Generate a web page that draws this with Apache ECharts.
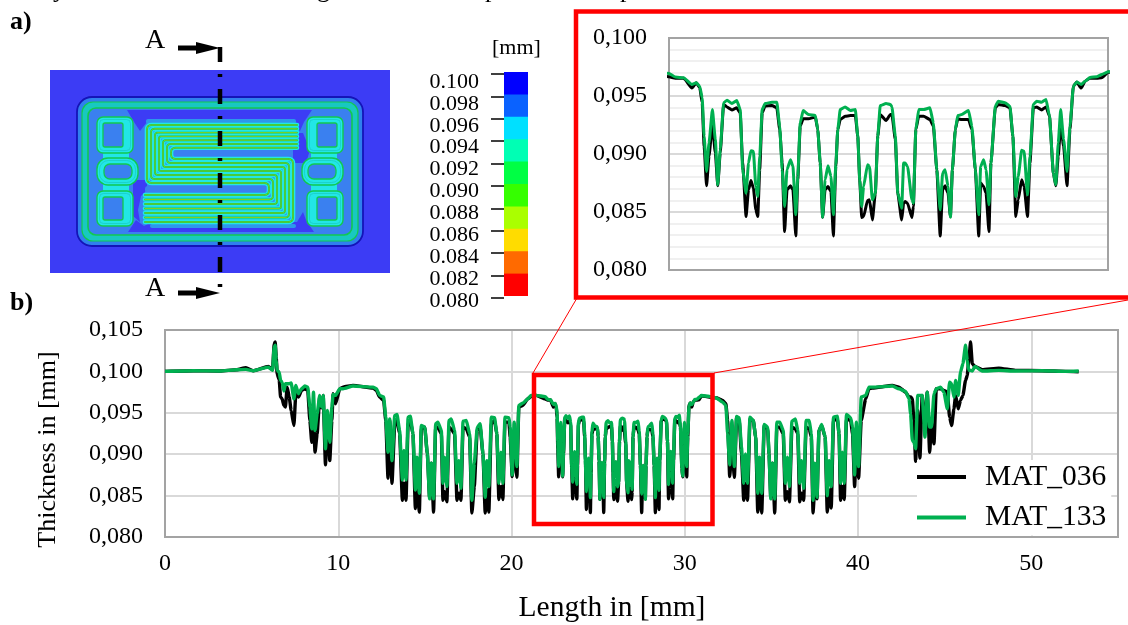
<!DOCTYPE html>
<html>
<head>
<meta charset="utf-8">
<style>html,body{margin:0;padding:0;background:#fff}#c{width:1128px;height:625px}</style>
<script src="https://cdn.jsdelivr.net/npm/echarts@6/dist/echarts.min.js"></script>
</head>
<body>
<div id="c"></div>
<script>
// Length along section A-A in mm and sheet thickness in mm, region by region.
const lengthFlangeLeft = [0,1.63,3.17,4.13,4.67,5.09,5.96,6.21,6.30,6.36,
6.42,6.47,6.59,6.67,6.76,6.86,6.95,7.05,7.17,7.28,
7.44,7.55,7.70,7.88,8.07,8.24,8.36,8.47,8.57,8.66,
8.78,8.93,9.03,9.13,9.26,9.38,9.51,9.63,9.70,9.84,
10.09,10.28,10.85,12.01,12.20,12.39,12.62,12.74,12.87,12.97,
13.10,13.26,13.39,13.54,13.70,13.79,13.91,14.03,14.16,14.31,
14.45,14.54,14.68,14.79,14.99,15.14,15.27,15.37,15.50,15.62,
15.75,15.95,16.04,16.14,16.27,16.39,16.52,16.71,16.85,16.96,
17.08,17.20,17.39,17.58,17.71,17.85,18.02,18.19,18.35,18.48,
18.58,18.69,18.83,19.02,19.15,19.27,19.39,19.50,19.62,19.85,
19.92,20.04,20.15,20.31,20.42,20.65,20.94,21.13,21.42];
const mat036Left = [.1,.10008,.10004,.1002,.10044,.10008,.1006,.1002,.10335,.10355,
.10173,.09972,.099,.0969,.09669,.09589,.09569,.0981,.0969,.09528,
.09347,.0973,.0969,.0977,.0979,.0977,.09407,.09145,.09407,.09024,
.09246,.0969,.0956,.0971,.08871,.09407,.08923,.09407,.0973,.09609,
.0979,.0981,.09831,.09798,.0977,.0969,.09649,.09407,.0871,.09407,
.08649,.09367,.09407,.09246,.08444,.08649,.08444,.09367,.09407,.09246,
.08343,.08609,.083,.09306,.09327,.09004,.0848,.08891,.083,.09327,
.09327,.09246,.08444,.08548,.08424,.09327,.09306,.09246,.08444,.08528,
.08444,.09327,.09306,.09206,.0829,.08609,.09286,.09327,.09004,.0829,
.08568,.083,.09367,.09407,.09246,.08452,.08609,.08452,.09387,.09387,
.09206,.0873,.09085,.08722,.09569,.09589,.09669,.09698,.0971];
const mat133Left = [.1,.10008,.10004,.1002,.10024,.10008,.10052,.10012,.10294,.10315,
.10133,.10012,.09992,.09891,.09871,.09762,.09851,.09851,.09851,.09859,
.09669,.09831,.0973,.0979,.09823,.0981,.09569,.09306,.0975,.09286,
.09488,.0971,.09569,.0971,.09065,.09528,.09145,.09569,.09722,.0971,
.0979,.0979,.09823,.0981,.0979,.0971,.0969,.09448,.09024,.09427,
.08923,.09468,.0948,.09286,.08689,.09044,.08689,.09448,.0946,.09246,
.08568,.08963,.08528,.09347,.09327,.09004,.0846,.08891,.0846,.09367,
.09387,.09286,.08649,.08963,.08609,.09407,.09427,.09286,.08649,.08923,
.08589,.09399,.09407,.09246,.08444,.08891,.09327,.09367,.09004,.0848,
.08923,.08609,.09448,.0944,.09246,.08649,.09024,.08649,.09448,.0944,
.09327,.0875,.09387,.08851,.09589,.09617,.09669,.0971,.0971];

const lengthCentre = [21.95,22.08,22.25,22.42,22.51,22.58,22.63,22.67,22.72,22.77,
22.84,22.90,22.95,23.00,23.07,23.14,23.24,23.34,23.41,23.46,
23.53,23.58,23.63,23.68,23.73,23.77,23.81,23.86,23.92,24.06,
24.16,24.22,24.27,24.32,24.37,24.44,24.49,24.55,24.59,24.64,
24.70,24.81,24.95,25.00,25.05,25.10,25.15,25.21,25.27,25.32,
25.37,25.41,25.46,25.56,25.67,25.77,25.82,25.86,25.90,25.94,
26.02,26.06,26.12,26.18,26.23,26.28,26.40,26.49,26.52,26.59,
26.64,26.72,26.76,26.79,26.84,26.93,26.96,27.01,27.07,27.17,
27.30,27.37,27.44,27.51,27.56,27.61,27.67,27.72,27.76,27.82,
27.87,27.95,28.09,28.16,28.23,28.30,28.34,28.40,28.45,28.51,
28.55,28.64,28.70,28.84,28.94,29.00,29.06,29.11,29.18,29.23,
29.30,29.35,29.42,29.49,29.59,29.68,29.75,29.83,29.88,29.93,
29.98,30.04,30.11,30.17,30.24,30.31,30.40,30.48,30.58,30.72,
30.82,30.96];
const mat036Centre = [.09666,.09654,.09654,.09568,.09614,.09571,.09441,.09066,.08726,.0898,
.09254,.09009,.08726,.09009,.09427,.09406,.0938,.09398,.09354,.08922,
.08461,.08692,.08772,.08706,.08519,.08461,.08865,.09354,.09412,.09418,
.09398,.0921,.08922,.08331,.08692,.08726,.08692,.08294,.08778,.09239,
.09303,.09303,.0932,.0921,.08922,.08455,.08692,.0872,.08677,.08294,
.08893,.0921,.09297,.09326,.09331,.09331,.09153,.08778,.08452,.08461,
.08599,.08605,.08432,.08663,.09153,.0934,.09288,.0934,.0934,.09124,
.08663,.08432,.08576,.08591,.08576,.08452,.08548,.0921,.09326,.09326,
.09297,.09239,.08865,.08294,.08692,.08726,.08663,.08461,.08865,.0921,
.09303,.09297,.09297,.0921,.08865,.08294,.08749,.0872,.08663,.08331,
.08922,.09398,.09427,.09418,.09398,.09153,.08461,.08605,.08778,.0872,
.08461,.08922,.09398,.09406,.0938,.09406,.09326,.08836,.08726,.0898,
.09254,.09066,.08726,.0921,.09585,.0962,.09568,.09628,.09654,.09654,
.09657,.09706];
const mat133Centre = [.09695,.09663,.09657,.09599,.09614,.09585,.09484,.09153,.0885,.09095,
.09383,.09124,.08735,.09037,.09441,.09464,.09435,.09461,.09383,.08865,
.08663,.08922,.09029,.09023,.0872,.08634,.0898,.09383,.09435,.09447,
.09447,.09239,.08865,.08548,.08865,.08951,.08893,.08476,.08807,.09268,
.09375,.0934,.09331,.0921,.08922,.08455,.08778,.08899,.08807,.08476,
.08908,.0921,.09383,.09406,.09375,.09383,.09153,.08778,.08548,.0872,
.08908,.08893,.08605,.08663,.09153,.09418,.09435,.09427,.09406,.09153,
.08663,.08533,.08922,.08922,.08893,.08605,.08576,.0921,.09383,.09383,
.09398,.09268,.08865,.08519,.08836,.08865,.0872,.08455,.08865,.0921,
.09331,.0934,.09375,.09239,.08865,.08476,.08893,.08951,.08865,.08562,
.08922,.09412,.09455,.09441,.09412,.09153,.08634,.08807,.09032,.09023,
.08648,.0898,.09427,.09455,.09447,.0947,.09326,.08836,.08735,.09095,
.09383,.09124,.0885,.09239,.09585,.0962,.09599,.09628,.0966,.09666,
.09686,.09709];

const lengthFlangeRight = [31.41,31.80,32.18,32.37,32.47,32.59,32.72,32.86,32.99,33.14,
33.27,33.40,33.50,33.62,33.76,33.95,34.09,34.21,34.31,34.44,
34.58,34.78,34.86,34.96,35.06,35.19,35.31,35.48,35.68,35.80,
35.92,36.04,36.18,36.38,36.52,36.63,36.74,36.86,37.00,37.18,
37.30,37.40,37.50,37.63,37.74,37.90,38.10,38.22,38.33,38.45,
38.58,38.80,38.90,38.99,39.09,39.20,39.33,39.57,39.68,39.80,
39.90,40.03,40.18,40.44,40.63,40.82,41.98,42.36,42.74,42.94,
43.03,43.13,43.22,43.32,43.44,43.57,43.70,43.86,43.99,44.13,
44.24,44.38,44.51,44.76,44.95,45.15,45.28,45.40,45.53,45.63,
45.78,45.91,46.05,46.20,46.30,46.39,46.49,46.59,46.74,47.16,
48.12,49.08,50.62,51.97,52.73];
const mat036Right = [.0969,.09681,.09649,.09609,.09407,.0873,.09085,.08722,.09448,.09407,
.09004,.08444,.08649,.08444,.09427,.09407,.09206,.083,.08609,.0829,
.09347,.09306,.09,.0848,.08891,.0829,.09327,.09327,.09246,.08444,
.08548,.08424,.09327,.09306,.09246,.08424,.08528,.08444,.09327,.09306,
.09206,.0829,.08609,.0846,.09286,.09347,.09206,.083,.08568,.0835,
.09407,.09427,.09246,.08444,.08609,.08452,.09427,.09407,.09246,.08609,
.09085,.0871,.09407,.09669,.0979,.09798,.09831,.0981,.0975,.0969,
.0969,.09669,.09407,.08915,.09528,.08955,.0971,.09327,.0975,.09024,
.09367,.09125,.0979,.0979,.0977,.0975,.09448,.09347,.09548,.0971,
.09548,.09649,.0971,.09891,.09952,.10133,.10355,.10093,.1006,.1002,
.1004,.10012,.10008,.1,.09996];
const mat133Right = [.09698,.09681,.09629,.09589,.09246,.08871,.09407,.08851,.09456,.0944,
.09085,.08649,.09004,.08649,.09448,.09407,.09206,.08528,.08963,.08528,
.09359,.09327,.09,.0846,.08891,.0846,.09387,.09387,.09286,.08649,
.08963,.08609,.09399,.09427,.09286,.08649,.08923,.08589,.09407,.09407,
.09246,.08444,.08891,.0848,.09286,.09359,.09206,.085,.08923,.08609,
.09448,.0946,.09246,.08649,.09024,.08649,.0948,.0944,.09327,.0875,
.09387,.08851,.0969,.0971,.0981,.0981,.09823,.0979,.09758,.09669,
.09488,.09165,.09145,.09065,.0971,.0971,.0971,.09206,.0975,.09327,
.09327,.0973,.0979,.0981,.0975,.09548,.09871,.09851,.0969,.09891,
.0971,.09992,.10093,.10315,.10133,.10012,.10012,.10004,.1006,.10004,
.10012,.10004,.10008,.1,.10004];

const tickLabelsColorbar = ['0.100','0.098','0.096','0.094','0.092','0.090','0.088','0.086','0.084','0.082','0.080'];
const colorbandUpperBounds = [0.100,0.098,0.096,0.094,0.092,0.090,0.088,0.086,0.084,0.082];
const colorbandColours = ['#0000ff','#0a62ff','#00e0ff','#00ffb4','#00ff44','#35ff00','#aaff00','#ffdc00','#ff6a00','#ff0000'];
const seriesNames = ['MAT_036','MAT_133'];
const seriesColours = ['#000000','#00b050'];

const lengths = lengthFlangeLeft.concat(lengthCentre, lengthFlangeRight);
const thick036 = mat036Left.concat(mat036Centre, mat036Right);
const thick133 = mat133Left.concat(mat133Centre, mat133Right);
const points036 = lengths.map((x,i)=>[x,thick036[i]]);
const points133 = lengths.map((x,i)=>[x,thick133[i]]);

const SERIF = '"Liberation Serif","Times New Roman",serif';
const commaFmt = v => v.toFixed(3).replace('.',',');

// ---- FE contour sketch ----
const BLUE='#3c3cf5', MID='#3a80f0', CY='#22e6e6', GR='#12c850', LIME='#b0d410', TEAL='#18c8c0', HALO='#2c98ec';
const g=[];
const rr=(x,y,w,h,r,fill,stroke,lw)=>g.push({type:'rect',silent:true,shape:{x,y,width:w,height:h,r},style:{fill:fill||'none',stroke:stroke||'none',lineWidth:lw||0}});
const poly=(pts,fill)=>g.push({type:'polygon',silent:true,shape:{points:pts},style:{fill}});
rr(50,70,340,203,0,BLUE);
rr(77,97,286,149,15,'#2f80ee','#1414b8',1.8);
rr(82,102,276,139,11,TEAL,GR,1.2);
rr(88,108,264,127,8,MID,GR,1.6);
// dark regions around the serpentine
poly([[127,110],[312,110],[304,122],[300,131],[293,124],[147,122],[140,131],[134,122]],BLUE);
poly([[128,232],[314,232],[306,220],[303,212],[297,222],[148,224],[144,226],[136,220]],BLUE);
poly([[293,133],[303,133],[310,150],[306,163],[293,163]],BLUE);
poly([[133,180],[147,180],[147,190],[141,196],[138,210],[140,222],[133,216]],BLUE);
rr(146,119,150,5,2,HALO); rr(150,224,146,4,2,HALO);
// bridges between corner pockets
[[103,152,26,8],[103,184,26,8],[311,152,26,8],[311,184,26,8]].forEach(b=>rr(b[0],b[1],b[2],b[3],0,CY));
// corner and middle pockets, both sides: outer x,y,w,h,r then inner x,y,w,h,r
[[97,117,36,36,6,103,123,20,24,2],[97,158,41,27,11,104,164,28,15,6],[97,191,36,35,6,103,197,20,23,2]].forEach(p=>{
  const mirror=v=>440-v;
  [[p[0],p[5]],[mirror(p[0]+p[2]),mirror(p[5]+p[7])]].forEach(([ox,ix])=>{
    rr(ox,p[1],p[2],p[3],p[4],CY,GR,1.4);
    rr(ox+2.5,p[1]+2.5,p[2]-5,p[3]-5,Math.max(p[4]-2,1),'none',TEAL,.7);
    rr(ix,p[6],p[7],p[8],p[9],MID,GR,1.3);
  });
});
// serpentine channels
rr(172,149,118,7,3,MID); rr(145,186,125,7,3,MID);
const rounded=(pts,r)=>{
  const out=[pts[0]];
  for(let k=1;k<pts.length-1;k++){
    const [px,py]=pts[k-1],[cx,cy]=pts[k],[nx,ny]=pts[k+1];
    const u=(ax,ay)=>{const l=Math.hypot(ax-cx,ay-cy),d=Math.min(r,l/2);return [cx+(ax-cx)*d/l,cy+(ay-cy)*d/l];};
    const a=u(px,py),b=u(nx,ny);
    for(let s=0;s<=5;s++){
      const t=s/5,m=1-t;
      out.push([m*m*a[0]+2*m*t*cx+t*t*b[0],m*m*a[1]+2*m*t*cy+t*t*b[1]]);
    }
  }
  out.push(pts[pts.length-1]);
  return out;
};
const serp=[];
for(let i=0;i<7;i++){
  const yt=125+i*3.8, xl=147+i*4, ym=183-i*4, xr=293-(6-i)*4, yb=195+i*4.5;
  serp.push(rounded([[297,yt],[xl,yt],[xl,ym],[xr,ym],[xr,yb],[145,yb]],2+Math.abs(3-i)*.9));
}
const stroke=(pts,c,w)=>g.push({type:'polyline',silent:true,shape:{points:pts},style:{fill:'none',stroke:c,lineWidth:w,lineJoin:'round',lineCap:'round'}});
serp.forEach(d=>stroke(d,CY,4.6));
serp.forEach(d=>stroke(d,GR,1.9));
serp.forEach(d=>stroke(d,LIME,.7));
// section line and arrows
g.push({type:'line',silent:true,shape:{x1:220,y1:47,x2:220,y2:290},style:{stroke:'#000',lineWidth:4.5,lineDash:[15,12,3,12]}});
[48,293].forEach(y=>{
  g.push({type:'rect',silent:true,shape:{x:178,y:y-2.5,width:22,height:5},style:{fill:'#000'}});
  g.push({type:'polygon',silent:true,shape:{points:[[196,y-6],[220,y],[196,y+6]]},style:{fill:'#000'}});
});
const txt=(s,x,y,size,weight,align)=>g.push({type:'text',silent:true,x,y,style:{text:s,font:(weight||'normal')+' '+size+'px '+SERIF,fill:'#000',textAlign:align||'left',textVerticalAlign:'middle'}});
txt('A',145,41,28); txt('A',145,289,28);
txt('a)',10,22,26,'bold'); txt('b)',10,303,26,'bold');
txt('[mm]',492,48,22);
[['y',53],['g',317],['p',485],['p',620]].forEach(t=>txt(t[0],t[1],-10,26));
// plot frames above the gridlines
[[165,330,953,207],[669,38,439,232]].forEach(f=>g.push({type:'rect',z:2,silent:true,shape:{x:f[0],y:f[1],width:f[2],height:f[3]},style:{fill:'none',stroke:'#a3a3a3',lineWidth:2}}));
// red frames
g.push({type:'rect',z:20,silent:true,shape:{x:576,y:11.5,width:560,height:286},style:{fill:'none',stroke:'#ff0000',lineWidth:4.5}});
g.push({type:'rect',z:20,silent:true,shape:{x:534,y:375,width:178.5,height:149},style:{fill:'none',stroke:'#ff0000',lineWidth:4.5}});
g.push({type:'line',z:20,silent:true,shape:{x1:533,y1:373,x2:577,y2:298},style:{stroke:'#ff0000',lineWidth:1}});
g.push({type:'line',z:20,silent:true,shape:{x1:714,y1:373,x2:1128,y2:300},style:{stroke:'#ff0000',lineWidth:1}});

const lineSeries=(idx,gridAxis,w)=>({
  name:seriesNames[idx],type:'line',xAxisIndex:gridAxis,yAxisIndex:gridAxis,
  data:idx===0?points036:points133,showSymbol:false,symbol:'none',smooth:0.15,smoothMonotone:'x',
  lineStyle:{color:seriesColours[idx],width:w,join:'round'},itemStyle:{color:seriesColours[idx]},
  animation:false,silent:true,z:3+idx
});
const bandSeries=colorbandUpperBounds.map((v,i)=>({
  name:'band'+i,type:'bar',xAxisIndex:2,yAxisIndex:2,data:[v],barWidth:'100%',barGap:'-100%',
  itemStyle:{color:colorbandColours[i]},animation:false,silent:true
}));

const chart=echarts.init(document.getElementById('c'),null,{renderer:'canvas'});
chart.setOption({
  backgroundColor:'#ffffff',animation:false,
  textStyle:{fontFamily:SERIF,color:'#000'},
  legend:{data:seriesNames,orient:'vertical',left:917,top:460,padding:[2,5,3,0],itemGap:10.5,icon:'rect',itemWidth:49,itemHeight:4,
    backgroundColor:'#ffffff',selectedMode:false,z:5,
    textStyle:{fontFamily:SERIF,fontSize:29.5,color:'#000',padding:[0,0,0,14]}},
  grid:[
    {left:165,top:330,width:953,height:207},
    {left:669,top:38,width:439,height:232},
    {left:504,top:72,width:24,height:224},
    {left:504,top:74,width:24,height:224},
    {left:504,top:82,width:24,height:219}
  ],
  xAxis:[
    {gridIndex:0,type:'value',min:0,max:55,interval:10,axisLine:{show:false},axisTick:{show:false},
      axisLabel:{fontFamily:SERIF,fontSize:24,color:'#000',margin:15,showMaxLabel:false},
      splitLine:{show:true,lineStyle:{color:'#d9d9d9',width:2}},
      name:'Length in [mm]',nameLocation:'middle',nameGap:56,nameTextStyle:{fontFamily:SERIF,fontSize:29.5,color:'#000',padding:[0,59,0,0]}},
    {gridIndex:1,type:'value',min:21.95,max:30.95,axisLine:{show:false},axisTick:{show:false},axisLabel:{show:false},splitLine:{show:false}},
    {gridIndex:2,type:'category',data:['scale'],show:false},
    {gridIndex:3,type:'value',min:0,max:1,show:false},
    {gridIndex:4,type:'value',min:0,max:1,show:false}
  ],
  yAxis:[
    {gridIndex:0,type:'value',min:0.08,max:0.105,interval:0.005,axisLine:{show:false},axisTick:{show:false},
      axisLabel:{fontFamily:SERIF,fontSize:24,color:'#000',margin:22,formatter:commaFmt},
      splitLine:{show:true,lineStyle:{color:'#d9d9d9',width:2}},
      name:'Thickness in [mm]',nameLocation:'middle',nameRotate:90,nameGap:104,nameTextStyle:{fontFamily:SERIF,fontSize:26,color:'#000',padding:[0,32,0,0]}},
    {gridIndex:1,type:'value',min:0.08,max:0.1,interval:0.005,axisLine:{show:false},axisTick:{show:false},
      axisLabel:{fontFamily:SERIF,fontSize:24,color:'#000',margin:22,formatter:commaFmt},
      splitLine:{show:true,lineStyle:{color:'#d9d9d9',width:2}},
      minorTick:{show:false,splitNumber:5},minorSplitLine:{show:true,lineStyle:{color:'#f0f0f0',width:2}}},
    {gridIndex:2,type:'value',min:0.08,max:0.1,show:false},
    {gridIndex:3,type:'value',min:0.08,max:0.1,interval:0.002,axisLine:{show:false},
      axisTick:{show:true,length:13,lineStyle:{color:'#000',width:1.5}},axisLabel:{show:false},splitLine:{show:false}},
    {gridIndex:4,type:'value',min:0.08,max:0.1,interval:0.002,axisLine:{show:false},axisTick:{show:false},splitLine:{show:false},
      axisLabel:{fontFamily:SERIF,fontSize:22,color:'#000',margin:25,
        formatter:(v,i)=>tickLabelsColorbar[tickLabelsColorbar.length-1-i]}}
  ],
  series:[lineSeries(0,0,3.4),lineSeries(1,0,3.4),lineSeries(0,1,3),lineSeries(1,1,3)].concat(bandSeries),
  graphic:g
});
</script>
</body>
</html>
